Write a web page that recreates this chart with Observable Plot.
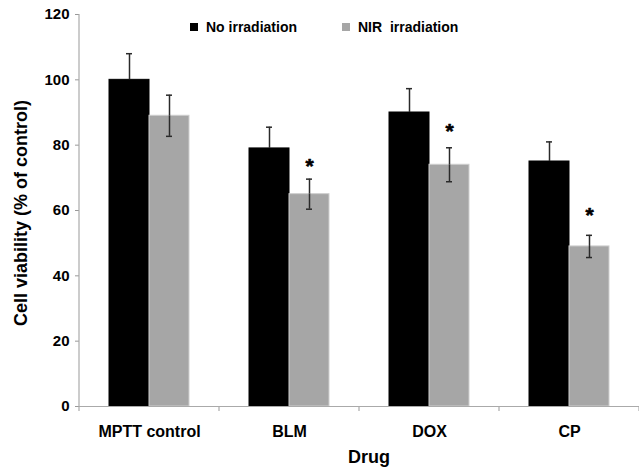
<!DOCTYPE html>
<html>
<head>
<meta charset="utf-8">
<script src="https://cdn.jsdelivr.net/npm/d3@7"></script>
<script src="https://cdn.jsdelivr.net/npm/@observablehq/plot@0.6"></script>
<style>
  html, body { margin: 0; padding: 0; background: #fff; }
  #wrap { position: relative; width: 639px; height: 469px; font-family: "Liberation Sans", Arial, Helvetica, sans-serif; }
  #wrap svg { position: absolute; left: 0; top: 0; }
  .lg-sw { position: absolute; width: 8px; height: 8px; }
  .lg-tx { position: absolute; font-size: 14px; font-weight: bold; line-height: 14px; white-space: pre; color: #000; }
</style>
</head>
<body>
<div id="wrap"></div>
<script>
// ---- data ----
const drugs = ["MPTT control", "BLM", "DOX", "CP"];
const conditions = ["No irradiation", "NIR  irradiation"];
const noIrradiation = [100, 79, 90, 75];
const noIrradiationErr = [8, 6.5, 7.3, 6];
const nirIrradiation = [89, 65, 74, 49];
const nirIrradiationErr = [6.3, 4.6, 5.2, 3.4];
const starLevel = [null, 75, 85.7, 60];   // "*" significance marks above NIR bars
const yTicks = [0, 20, 40, 60, 80, 100, 120];
const xTitle = "Drug";
const yTitle = "Cell viability (% of control)";
const colors = ["#000000", "#a6a6a6"];

const rows = drugs.flatMap((d, i) => [
  {drug: d, cond: conditions[0], value: noIrradiation[i], err: noIrradiationErr[i]},
  {drug: d, cond: conditions[1], value: nirIrradiation[i], err: nirIrradiationErr[i]}
]);
const grayRows = rows.filter(d => d.cond === conditions[1]);
const stars = drugs.map((d, i) => ({drug: d, cond: conditions[1], y: starLevel[i]})).filter(d => d.y != null);

const font = '"Liberation Sans", Arial, Helvetica, sans-serif';

const plot = Plot.plot({
  width: 639,
  height: 469,
  marginLeft: 78,
  marginRight: 0,
  marginTop: 14,
  marginBottom: 63,
  style: {fontFamily: font, background: "#fff", color: "#000", overflow: "visible"},
  fx: {domain: drugs, padding: 0, label: null},
  x: {domain: conditions, paddingInner: 0, paddingOuter: 0.75, axis: null},
  y: {domain: [0, 120], axis: null},
  color: {domain: conditions, range: colors},
  marks: [
    Plot.barY(rows, {fx: "drug", x: "cond", y: "value", fill: "cond",
      stroke: d => d.cond === conditions[1] ? "#cfcfcf" : "#000", strokeWidth: 1}),
    // upper error bars (all bars)
    Plot.ruleX(rows, {fx: "drug", x: "cond", y1: "value", y2: d => d.value + d.err,
      stroke: "#2a2a2a", strokeWidth: 1.5}),
    Plot.tickY(rows, {fx: "drug", x: "cond", y: d => d.value + d.err, stroke: "#2a2a2a", strokeWidth: 1.5,
      insetLeft: 17, insetRight: 17}),
    // lower error bars (visible on the grey bars only)
    Plot.ruleX(grayRows, {fx: "drug", x: "cond", y1: d => d.value - d.err, y2: "value",
      stroke: "#2a2a2a", strokeWidth: 1.5}),
    Plot.tickY(grayRows, {fx: "drug", x: "cond", y: d => d.value - d.err, stroke: "#2a2a2a", strokeWidth: 1.5,
      insetLeft: 17, insetRight: 17}),
    Plot.text(stars, {fx: "drug", x: "cond", y: "y", text: () => "*", fontSize: 21, fontWeight: "bold",
      fill: "#000", stroke: "#000", strokeWidth: 0.6, dy: 5}),
    Plot.ruleY([0], {stroke: "#aaaaaa", strokeWidth: 1.2}),
    Plot.axisY({ticks: yTicks, tickSize: 4, tickPadding: 6, fontSize: 15, fontWeight: "bold",
      stroke: "#999", label: null}),
    Plot.axisFx({anchor: "bottom", tickSize: 0, tickPadding: 19, fontSize: 16, fontWeight: "bold", label: null})
  ]
});

const wrap = document.getElementById("wrap");
wrap.appendChild(plot);

// axis line and category boundary ticks, from Plot's own scales
const fx = plot.scale("fx");
const ys = plot.scale("y");
const svg = d3.select(plot);
const y0 = ys.apply(0), yTop = ys.apply(120);
const left = fx.apply(drugs[0]);
const bounds = drugs.map(d => fx.apply(d)).concat([fx.apply(drugs[drugs.length - 1]) + fx.bandwidth]);
const g = svg.append("g").attr("stroke", "#aaaaaa").attr("stroke-width", 1.2);
g.append("line").attr("x1", left).attr("x2", left).attr("y1", yTop).attr("y2", y0);
bounds.forEach(b => g.append("line").attr("x1", b).attr("x2", b).attr("y1", y0).attr("y2", y0 + 5));

// axis titles
svg.append("text").text(yTitle)
  .attr("transform", `translate(21,${(y0 + yTop) / 2 + 3}) rotate(-90)`)
  .attr("text-anchor", "middle").attr("dominant-baseline", "central")
  .attr("font-family", font).attr("font-size", 18).attr("font-weight", "bold").attr("fill", "#000");
svg.append("text").text(xTitle)
  .attr("x", 369).attr("y", 463)
  .attr("text-anchor", "middle")
  .attr("font-family", font).attr("font-size", 18).attr("font-weight", "bold").attr("fill", "#000");

// legend (inside the plot area, top)
const legendItems = [
  {label: conditions[0], color: colors[0], sx: 190, tx: 206},
  {label: conditions[1], color: colors[1], sx: 342, tx: 358}
];
legendItems.forEach(it => {
  const sw = document.createElement("div");
  sw.className = "lg-sw";
  sw.style.left = it.sx + "px"; sw.style.top = "23px"; sw.style.background = it.color;
  wrap.appendChild(sw);
  const tx = document.createElement("div");
  tx.className = "lg-tx";
  tx.style.left = it.tx + "px"; tx.style.top = "20px";
  tx.textContent = it.label;
  wrap.appendChild(tx);
});
</script>
</body>
</html>
